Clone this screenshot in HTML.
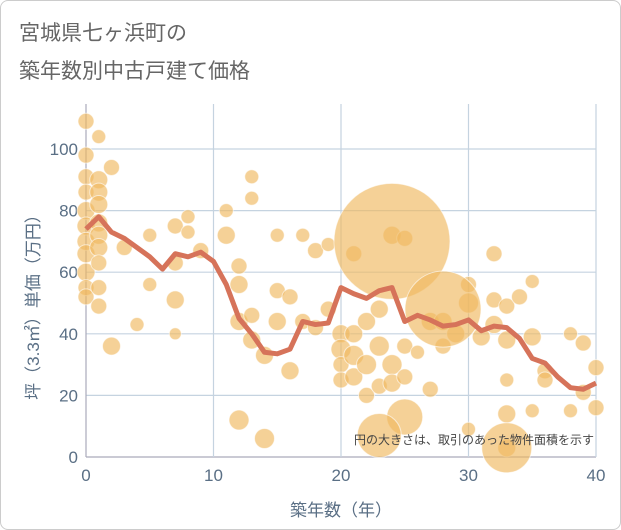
<!DOCTYPE html>
<html><head><meta charset="utf-8"><style>
body{margin:0;background:#fff;}
#wrap{width:619px;height:528px;border:1px solid #ccc;border-radius:8px;position:relative;overflow:hidden;font-family:"Liberation Sans","Noto Sans CJK JP",sans-serif;}
.t{position:absolute;left:18px;font-size:21px;color:#666;}
svg{position:absolute;left:0;top:0;}
</style></head><body>
<div id="wrap">
<div class="t" style="top:16px">宮城県七ヶ浜町の</div>
<div class="t" style="top:54px">築年数別中古戸建て価格</div>
<svg id="c" width="621" height="530"></svg>
</div>
<script>
const xTicks=[0,10,20,30,40];
const yTicks=[0,20,40,60,80,100];
const lineYears=[0,1,2,3,4,5,6,7,8,9,10,11,12,13,14,15,16,17,18,19,20,21,22,23,24,25,26,27,28,29,30,31,32,33,34,35,36,37,38,39,40];
const lineValues=[74,78,73,71,68,65,61,66,65,66.5,63.5,56,45,40,34,33.5,35,44,43,43.5,55,53,51.5,54,55,44,46,44.5,42.5,43,44.5,41,42.5,42,38.5,32,30.5,26,22.5,22,24];
const bubbleYears=[0,0,0,0,0,0,0,0,0,0,0,1,1,1,1,1,1,1,1,1,1,2,2,3,4,5,5,7,7,7,7,8,8,9,11,11,12,12,12,12,13,13,13,13,14,14,15,15,15,16,16,17,17,18,18,19,19,20,20,20,20,21,21,21,21,22,22,22,23,23,23,24,24,24,25,25,25,26,27,27,28,28,29,30,30,30,31,32,32,32,33,33,33,33,33,34,35,35,35,36,36,38,38,39,39,40,40,24,28,25,23,33];
const bubbleValues=[109,98,91,86,80,75,70,66,60,55,52,104,90,86,82,76,72,68,63,55,49,94,36,68,43,72,56,75,63,51,40,78,73,67,80,72,62,56,44,12,91,84,46,38,6,33,72,54,44,52,28,72,44,67,42,69,48,40,35,30,25,66,40,33,26,44,30,20,48,36,23,72,30,24,71,36,26,34,44,22,44,36,40,56,50,9,39,66,51,43,49,38,25,14,3,52,57,39,15,28,25,40,15,37,21,29,16,70,48,13,7,3];
const bubbleSizes=[8,8,8,8,9,9,9,9,9,8,8,7,9,9,9,9,9,9,8,8,8,8,9,8,7,7,7,8,8,9,6,7,7,8,7,9,8,9,9,10,7,7,8,9,10,9,7,8,9,8,9,7,8,8,8,7,8,9,10,8,8,8,9,10,9,9,10,8,9,10,8,9,10,9,8,8,8,7,9,8,9,8,9,8,10,7,9,8,8,9,8,9,7,9,9,8,7,9,7,8,8,7,7,8,8,8,8,58,38,18,22,25];
const X0=85,X1=595,Y0=456,Y1=148;
const sx=v=>X0+(v-0)/40*(X1-X0);
const sy=v=>Y0-(v/100)*(Y0-Y1);
const svg=document.getElementById('c');const NS='http://www.w3.org/2000/svg';
function mk(t,a){const e=document.createElementNS(NS,t);for(const k in a)e.setAttribute(k,a[k]);svg.appendChild(e);return e;}
yTicks.forEach(v=>{const g=mk('line',{x1:X0,x2:X1,y1:sy(v),y2:sy(v),stroke:v===0?'#aab':'#c5d3e0','stroke-width':1.2});

const t=mk('text',{x:X0-8,y:sy(v)+6,'text-anchor':'end','font-size':17,fill:'#5a6f85'});t.textContent=v;
});
xTicks.forEach(v=>{const g=mk('line',{x1:sx(v),x2:sx(v),y1:Y1-45,y2:Y0,stroke:v===0?'#aab':'#c5d3e0','stroke-width':1.2});

const t=mk('text',{x:sx(v),y:Y0+24,'text-anchor':'middle','font-size':17,fill:'#5a6f85'});t.textContent=v;
});
bubbleYears.forEach((yr,i)=>{const c=mk('circle',{cx:sx(yr),cy:sy(bubbleValues[i]),r:bubbleSizes[i],fill:'rgba(240,185,95,0.65)',stroke:'rgba(255,255,255,0.6)','stroke-width':1});
});
const p=mk('polyline',{points:lineYears.map((y,i)=>sx(y)+','+sy(lineValues[i])).join(' '),fill:'none',stroke:'#d6735a','stroke-width':5,'stroke-linejoin':'round'});

const n=mk('text',{x:593,y:443,'text-anchor':'end','font-size':12,fill:'#444'});n.textContent='円の大きさは、取引のあった物件面積を示す';

const xt=mk('text',{x:340,y:515,'text-anchor':'middle','font-size':17,fill:'#5a6f85'});xt.textContent='築年数（年）';

const yt=mk('text',{x:0,y:0,'text-anchor':'middle','font-size':17,fill:'#5a6f85',transform:'translate(38,302) rotate(-90)'});yt.textContent='坪（3.3㎡）単価（万円）';

</script>
</body></html>
